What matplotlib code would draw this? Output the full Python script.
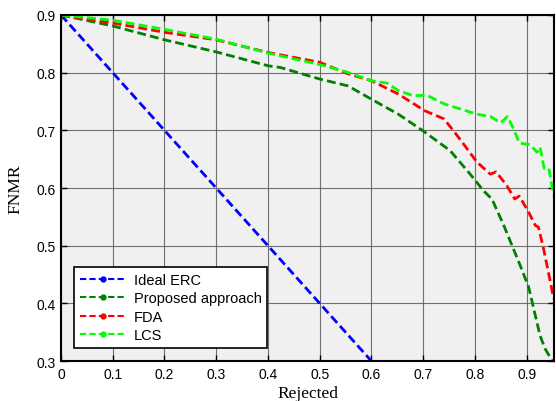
import matplotlib
matplotlib.use('Agg')
import matplotlib.pyplot as plt
from matplotlib.lines import Line2D

# values
ideal_x = [0.0, 0.6]
ideal_y = [0.9, 0.3]

prop_x = [0.0, 0.1, 0.2, 0.3, 0.4, 0.424, 0.5, 0.555, 0.6, 0.652, 0.7, 0.752, 0.791,
          0.817, 0.833, 0.856, 0.872, 0.888, 0.904, 0.914, 0.926, 0.936, 0.947, 0.95]
prop_y = [0.9, 0.881, 0.857, 0.836, 0.812, 0.809, 0.789, 0.777, 0.754, 0.728, 0.699, 0.665, 0.624,
          0.595, 0.581, 0.535, 0.500, 0.465, 0.428, 0.390, 0.344, 0.321, 0.304, 0.30]

fda_x = [0.0, 0.1, 0.2, 0.3, 0.4, 0.5, 0.555, 0.6, 0.652, 0.703, 0.740, 0.759, 0.785,
         0.804, 0.830, 0.841, 0.862, 0.877, 0.886, 0.904, 0.917, 0.923, 0.933, 0.946, 0.951, 0.96]
fda_y = [0.9, 0.886, 0.870, 0.857, 0.835, 0.818, 0.798, 0.786, 0.763, 0.734, 0.720, 0.699, 0.668,
         0.645, 0.624, 0.628, 0.604, 0.581, 0.586, 0.558, 0.535, 0.532, 0.494, 0.437, 0.414, 0.39]

lcs_x = [0.0, 0.1, 0.2, 0.3, 0.4, 0.5, 0.553, 0.6, 0.630, 0.652, 0.681, 0.707, 0.740, 0.772,
         0.804, 0.830, 0.850, 0.863, 0.875, 0.886, 0.907, 0.920, 0.926, 0.934, 0.943, 0.949, 0.956, 0.96]
lcs_y = [0.9, 0.891, 0.875, 0.858, 0.834, 0.814, 0.801, 0.786, 0.782, 0.769, 0.760, 0.761, 0.746, 0.737,
         0.728, 0.724, 0.713, 0.724, 0.702, 0.678, 0.675, 0.662, 0.671, 0.634, 0.634, 0.604, 0.575, 0.55]

labels = ['Ideal ERC', 'Proposed approach', 'FDA', 'LCS']
colors = ['#0000ff', '#007f00', '#ff0000', '#00ff00']

plt.rcParams['font.family'] = ['Liberation Sans', 'DejaVu Sans']

fig = plt.figure(figsize=(5.56, 4.02), dpi=100)
ax = fig.add_axes([0.1097, 0.0995, 0.8867, 0.8607])
ax.set_facecolor('#f0f0f0')

dash = (3.2, 1.5)
series = [(ideal_x, ideal_y), (prop_x, prop_y), (fda_x, fda_y), (lcs_x, lcs_y)]
for (xs, ys), c in zip(series, colors):
    ax.plot(xs, ys, color=c, lw=2, linestyle=(0, dash))

ax.set_xlim(0, 0.953)
ax.set_ylim(0.3, 0.9)
ax.set_xticks([0, 0.1, 0.2, 0.3, 0.4, 0.5, 0.6, 0.7, 0.8, 0.9])
ax.set_xticklabels(['0', '0.1', '0.2', '0.3', '0.4', '0.5', '0.6', '0.7', '0.8', '0.9'])
ax.set_yticks([0.3, 0.4, 0.5, 0.6, 0.7, 0.8, 0.9])
ax.set_yticklabels(['0.3', '0.4', '0.5', '0.6', '0.7', '0.8', '0.9'])
ax.grid(True, color='#5a5a5a', lw=0.8, alpha=0.85)
ax.set_axisbelow(True)
ax.tick_params(direction='in', top=True, right=True, length=4, width=1,
               labelsize=10, pad=4)
for s in ax.spines.values():
    s.set_linewidth(1.5)

ax.set_xlabel('Rejected', family='Liberation Serif', fontsize=12.5, labelpad=3)
ax.set_ylabel('FNMR', family='Liberation Serif', fontsize=12.5, labelpad=9)

handles = [Line2D([0, 0.5, 1], [0, 0, 0], color=c, lw=1.5, linestyle=(0, (3, 1.5)),
                  marker='o', markersize=3.5, markevery=[1]) for c in colors]
leg = ax.legend(handles, labels, loc='lower left', bbox_to_anchor=(0.026, 0.0376),
                fontsize=10.5, frameon=True, fancybox=False, framealpha=1,
                edgecolor='black', handlelength=3.2, handletextpad=0.5,
                labelspacing=0.3, borderpad=0.4, borderaxespad=0)
leg.get_frame().set_linewidth(1.2)

fig.savefig('out.png', dpi=100)
